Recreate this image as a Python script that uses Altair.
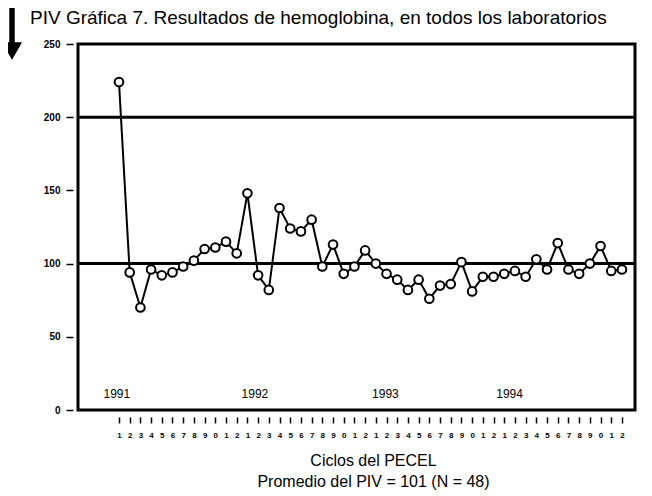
import altair as alt
import pandas as pd

# Data
cycles = list(range(1, 49))
piv = [224, 94, 70, 96, 92, 94, 98, 102, 110, 111, 115, 107,
       148, 92, 82, 138, 124, 122, 130, 98, 113, 93, 98, 109,
       100, 93, 89, 82, 89, 76, 85, 86, 101, 81, 91, 91,
       93, 95, 91, 103, 96, 114, 96, 93, 100, 112, 95, 96]
ref_lines = [100, 200]
years = ["1991", "1992", "1993", "1994"]
year_pos = [0.8, 13.7, 25.9, 37.5]
year_level = [11, 11, 11, 11]
y_ticks = [0, 50, 100, 150, 200, 250]
title_text = ["PIV  Gráfica 7. Resultados de hemoglobina, en todos los laboratorios"]

df = pd.DataFrame({"ciclo": cycles, "piv": piv})
df_ref = pd.DataFrame({"ref": ref_lines})
df_year = pd.DataFrame({"year": years, "pos": year_pos, "lvl": year_level})
df_title = pd.DataFrame({"t": title_text})

FONT = "Liberation Sans"
xscale = alt.Scale(domain=[-2.83, 49.22], nice=False, zero=False)
yscale = alt.Scale(domain=[0, 250], nice=False)

x_axis = alt.Axis(
    values=cycles, tickCount=len(cycles),
    labelExpr="((datum.value - 1) % 12 + 1) % 10",
    labelOverlap=False, labelBound=False, labelFlush=False,
    domain=False, grid=False, offset=7, tickSize=6, tickWidth=1.5,
    tickColor="black", labelFontSize=8, labelFontWeight="bold",
    labelColor="black", labelPadding=8, labelFont=FONT,
    title=["Ciclos del PECEL", "Promedio del PIV = 101 (N = 48)"],
    titleFontSize=16, titleFontWeight="normal", titleFont=FONT,
    titleColor="black", titlePadding=13, titleLineHeight=21, titleX=295,
)
y_axis = alt.Axis(
    values=y_ticks, tickCount=len(y_ticks), domain=False, grid=False,
    offset=5, tickSize=7, tickWidth=1.5, tickColor="black", labelFontSize=10,
    labelFontWeight="bold", labelColor="black", labelFont=FONT,
    labelPadding=6, labelOverlap=False, title=None,
)

base = alt.Chart(df)

rules = alt.Chart(df_ref).mark_rule(color="black", strokeWidth=3).encode(
    y=alt.Y("ref:Q", scale=yscale, axis=y_axis)
)

line = base.mark_line(color="black", strokeWidth=2).encode(
    x=alt.X("ciclo:Q", scale=xscale, axis=x_axis),
    y=alt.Y("piv:Q", scale=yscale, axis=y_axis),
)

points = base.mark_point(
    shape="circle", filled=True, fill="white", stroke="black",
    strokeWidth=2, size=75, opacity=1
).encode(
    x=alt.X("ciclo:Q", scale=xscale, axis=x_axis),
    y=alt.Y("piv:Q", scale=yscale, axis=y_axis),
)

year_text = alt.Chart(df_year).mark_text(
    font=FONT, fontSize=12, color="black", align="center", baseline="middle"
).encode(
    x=alt.X("pos:Q", scale=xscale, axis=x_axis),
    y=alt.Y("lvl:Q", scale=yscale, axis=y_axis),
    text="year:N",
)

title_mark = alt.Chart(df_title).mark_text(
    font=FONT, fontSize=19, color="black", align="left", baseline="middle",
    clip=False
).encode(
    x=alt.value(-48), y=alt.value(-26), text="t:N"
)

arrow_shaft = alt.Chart(df_ref).mark_rule(color="black", strokeWidth=5, clip=False).encode(
    x=alt.value(-66), y=alt.value(-40), y2=alt.value(2)
)
arrow_head = alt.Chart(df_ref).mark_point(
    shape="triangle-down", filled=True, color="black", size=380, opacity=1, clip=False
).encode(
    x=alt.value(-66), y=alt.value(7)
)

chart = alt.layer(
    rules, line, points, year_text, title_mark, arrow_shaft, arrow_head
).properties(
    width=557,
    height=366,
    autosize=alt.AutoSizeParams(type="none"),
    padding={"left": 70, "top": 36, "right": 7, "bottom": 84},
).configure(background="white").configure_view(stroke="black", strokeWidth=3)

chart.save("out.html", embed_options={"renderer": "svg", "actions": False})
